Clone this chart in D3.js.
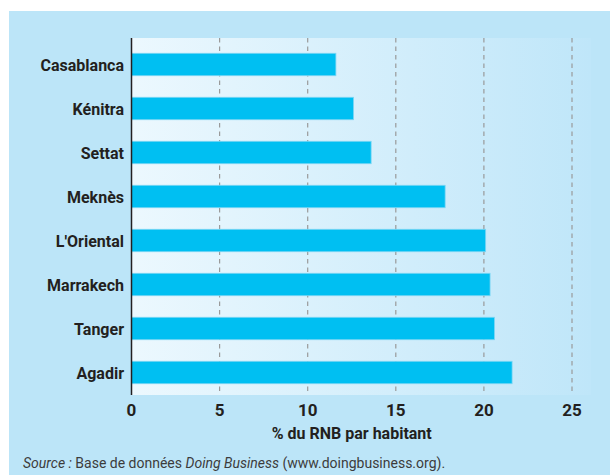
<!DOCTYPE html>
<html>
<head>
<meta charset="utf-8">
<script src="https://cdn.jsdelivr.net/npm/d3@7/dist/d3.min.js"></script>
<style>
  html, body { margin: 0; padding: 0; background: #ffffff; }
  svg { display: block; }
</style>
</head>
<body>
<div id="chart"></div>
<script>
// Data
const cities = ['Casablanca', 'Kénitra', 'Settat', 'Meknès', "L'Oriental", 'Marrakech', 'Tanger', 'Agadir'];
const costValues = [11.6, 12.6, 13.6, 17.8, 20.1, 20.35, 20.6, 21.6];
const tickValues = [0, 5, 10, 15, 20, 25];
const axisTitle = '% du RNB par habitant';

const width = 610, height = 475;
const plot = { left: 131.5, right: 591, top: 38, bottom: 395 };
const FONT = 'Roboto, "Open Sans", sans-serif';

const svg = d3.select('#chart').append('svg')
    .attr('width', width)
    .attr('height', height)
    .attr('viewBox', `0 0 ${width} ${height}`);

// Gradient for plot area
const defs = svg.append('defs');
const grad = defs.append('linearGradient')
    .attr('id', 'plotGrad')
    .attr('x1', '0%').attr('x2', '100%')
    .attr('y1', '0%').attr('y2', '0%');
grad.append('stop').attr('offset', '0%').attr('stop-color', '#ecf8fe');
grad.append('stop').attr('offset', '100%').attr('stop-color', '#bfe6f9');

// Outer panel
svg.append('rect')
    .attr('x', 9).attr('y', 11)
    .attr('width', width - 9).attr('height', height - 11)
    .attr('fill', '#bce5f8');

svg.append('rect')
    .attr('x', plot.left).attr('y', plot.top)
    .attr('width', plot.right - plot.left)
    .attr('height', plot.bottom - plot.top)
    .attr('fill', 'url(#plotGrad)');

// Scales
const x = d3.scaleLinear()
    .domain([0, 25])
    .range([plot.left, 572]);

const y = d3.scaleBand()
    .domain(cities)
    .range([42.5, 394.5])
    .paddingInner(0.49)
    .paddingOuter(0.245);

// Gridlines (dashed, skip 0)
svg.append('g')
    .selectAll('line')
    .data(tickValues.filter(d => d > 0))
    .enter().append('line')
    .attr('x1', d => x(d)).attr('x2', d => x(d))
    .attr('y1', plot.top).attr('y2', plot.bottom)
    .attr('stroke', '#9a9a9a')
    .attr('stroke-width', 1.2)
    .attr('stroke-dasharray', '4.5,4');

// Bars
svg.append('g')
    .selectAll('rect')
    .data(cities.map((c, i) => ({ city: c, value: costValues[i] })))
    .enter().append('rect')
    .attr('x', x(0))
    .attr('y', d => y(d.city))
    .attr('width', d => x(d.value) - x(0))
    .attr('height', y.bandwidth())
    .attr('fill', '#00bff2')
    .attr('stroke', '#7dd6f4')
    .attr('stroke-width', 0.8);

// Zero axis line
svg.append('line')
    .attr('x1', x(0)).attr('x2', x(0))
    .attr('y1', plot.top).attr('y2', plot.bottom)
    .attr('stroke', '#231f20')
    .attr('stroke-width', 1.5);

// Category labels
svg.append('g')
    .selectAll('text')
    .data(cities)
    .enter().append('text')
    .attr('x', 124)
    .attr('y', d => y(d) + y.bandwidth() / 2)
    .attr('dy', '0.38em')
    .attr('text-anchor', 'end')
    .attr('font-family', FONT)
    .attr('font-weight', 'bold')
    .attr('font-size', 16)
    .attr('fill', '#231f20')
    .text(d => d);

// X tick labels
svg.append('g')
    .selectAll('text')
    .data(tickValues)
    .enter().append('text')
    .attr('x', d => x(d))
    .attr('y', 410)
    .attr('dy', '0.36em')
    .attr('text-anchor', 'middle')
    .attr('font-family', FONT)
    .attr('font-weight', 'bold')
    .attr('font-size', 17)
    .attr('fill', '#231f20')
    .text(d => d);

// Axis title
svg.append('text')
    .attr('x', (x(0) + x(25)) / 2)
    .attr('y', 433)
    .attr('dy', '0.36em')
    .attr('text-anchor', 'middle')
    .attr('font-family', FONT)
    .attr('font-weight', 'bold')
    .attr('font-size', 16)
    .attr('fill', '#231f20')
    .text(axisTitle);

// Source note
const src = svg.append('text')
    .attr('x', 23)
    .attr('y', 463)
    .attr('dy', '0.36em')
    .attr('font-family', FONT)
    .attr('font-size', 14)
    .attr('fill', '#3c3c3c');
src.append('tspan').attr('font-style', 'italic').text('Source :');
src.append('tspan').text(' Base de données ');
src.append('tspan').attr('font-style', 'italic').text('Doing Business');
src.append('tspan').text(' (www.doingbusiness.org).');
</script>
</body>
</html>
